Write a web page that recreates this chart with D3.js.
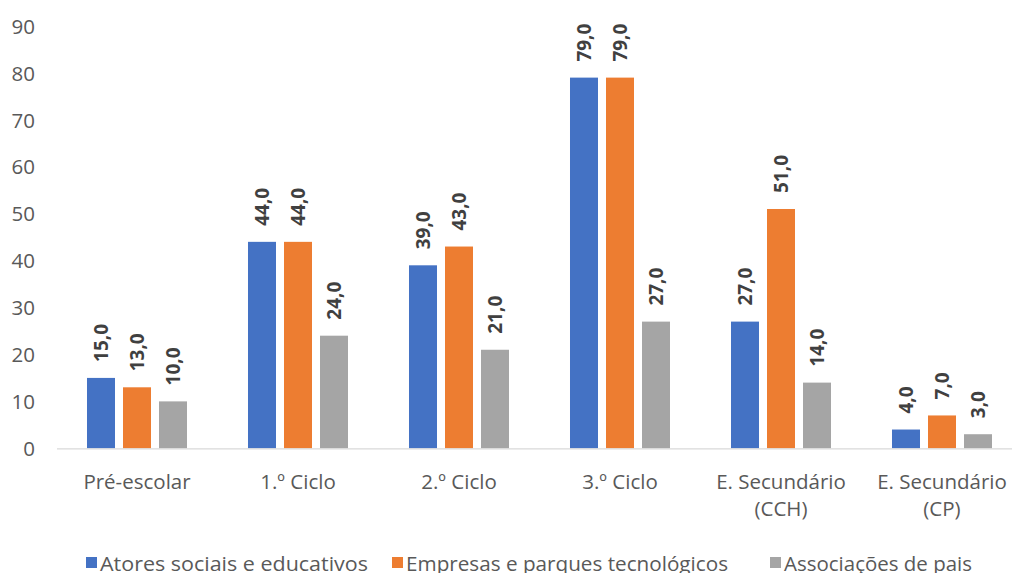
<!DOCTYPE html>
<html>
<head>
<meta charset="utf-8">
<script src="https://cdn.jsdelivr.net/npm/d3@7"></script>
<style>
  html, body { margin: 0; padding: 0; background: #fff; }
  svg { display: block; font-family: "Open Sans", "Noto Sans", sans-serif; }
</style>
</head>
<body>
<svg id="chart" width="1012" height="573"></svg>
<script>
// Níveis de ensino (eixo das categorias)
const categories = [
  ["Pré-escolar"],
  ["1.º Ciclo"],
  ["2.º Ciclo"],
  ["3.º Ciclo"],
  ["E. Secundário", "(CCH)"],
  ["E. Secundário", "(CP)"]
];
const seriesNames = [
  "Atores sociais e educativos",
  "Empresas e parques tecnológicos",
  "Associações de pais"
];
const atores      = [15, 44, 39, 79, 27, 4];
const empresas    = [13, 44, 43, 79, 51, 7];
const associacoes = [10, 24, 21, 27, 14, 3];
const yTicks = [0, 10, 20, 30, 40, 50, 60, 70, 80, 90];
const colors = ["#4472C4", "#ED7D31", "#A5A5A5"];

const seriesValues = [atores, empresas, associacoes];
const catKeys = categories.map(c => c.join(" "));

const svg = d3.select("#chart");

const plot = { left: 56.5, right: 1022.5, top: 26, bottom: 448.3 };

const y = d3.scaleLinear().domain([0, 90]).range([plot.bottom, plot.top]);
const x0 = d3.scaleBand().domain(catKeys).range([plot.left, plot.right]).paddingInner(0).paddingOuter(0);
const x1 = d3.scaleBand().domain(seriesNames).range([0, x0.bandwidth()])
  .paddingInner(8 / 36).paddingOuter(0.847);

// Eixo Y: apenas rótulos
const yAxis = d3.axisLeft(y).tickValues(yTicks).tickSize(0).tickPadding(0).tickFormat(d3.format("d"));
const gy = svg.append("g").attr("transform", "translate(35,0)").call(yAxis);
gy.select(".domain").remove();
gy.selectAll("text")
  .attr("fill", "#595959")
  .style("font-size", "20.5px")
  .style("font-family", "'Open Sans', sans-serif")
  .attr("dy", "0.35em");

// Barras e rótulos de valor
const groups = svg.append("g").selectAll("g")
  .data(catKeys)
  .join("g")
  .attr("transform", d => `translate(${x0(d)},0)`);

groups.each(function (cat, ci) {
  const g = d3.select(this);
  seriesNames.forEach((s, si) => {
    const v = seriesValues[si][ci];
    g.append("rect")
      .attr("x", x1(s))
      .attr("y", y(v))
      .attr("width", x1.bandwidth())
      .attr("height", y(0) - y(v))
      .attr("fill", colors[si]);
    g.append("text")
      .attr("transform", `translate(${x1(s) + x1.bandwidth() / 2},${y(v) - 16}) rotate(-90)`)
      .attr("dy", "0.35em")
      .attr("text-anchor", "start")
      .attr("fill", "#404040")
      .style("font-size", "19px")
      .style("font-weight", "bold")
      .text(d3.format(".1f")(v).replace(".", ","));
  });
});

// Linha do eixo X
const xAxis = d3.axisBottom(x0).tickSize(0).tickFormat("");
const gx = svg.append("g").attr("transform", `translate(0,${plot.bottom})`).call(xAxis);
gx.select(".domain").attr("stroke", "#D9D9D9").attr("stroke-width", 1.2);

// Rótulos das categorias (uma ou duas linhas)
const labelRows = [];
categories.forEach((lines, i) => {
  lines.forEach((line, li) => labelRows.push({ key: catKeys[i], line, li }));
});
svg.append("g").selectAll("text")
  .data(labelRows)
  .join("text")
  .attr("x", d => x0(d.key) + x0.bandwidth() / 2)
  .attr("y", d => 489 + d.li * 26.5)
  .attr("text-anchor", "middle")
  .attr("fill", "#595959")
  .style("font-size", "20.5px")
  .text(d => d.line);

// Legenda
const legendX = [86, 392, 770];
const legendW = [268, 322, 188];
const legend = svg.append("g").selectAll("g")
  .data(seriesNames)
  .join("g")
  .attr("transform", (d, i) => `translate(${legendX[i]},0)`);
legend.append("rect")
  .attr("x", 0).attr("y", 557)
  .attr("width", 11).attr("height", 11)
  .attr("fill", (d, i) => colors[i]);
legend.append("text")
  .attr("x", 14).attr("y", 571)
  .attr("fill", "#595959")
  .style("font-size", "20px")
  .attr("textLength", (d, i) => legendW[i])
  .attr("lengthAdjust", "spacingAndGlyphs")
  .text(d => d);
</script>
</body>
</html>
